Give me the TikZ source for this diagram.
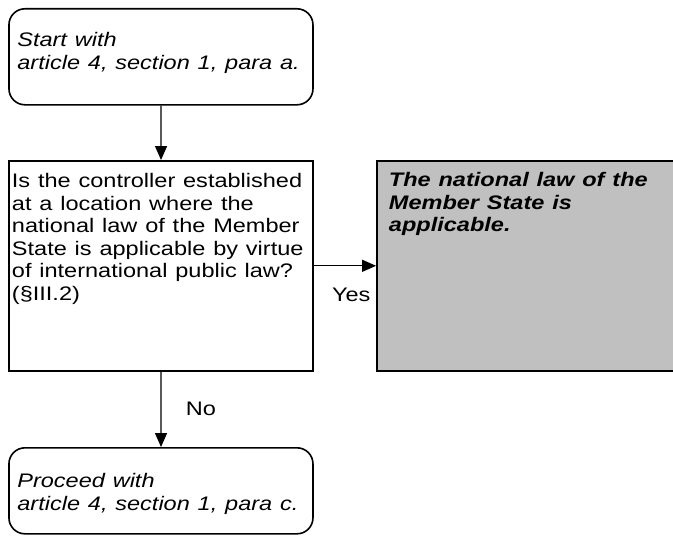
\documentclass[tikz,border=0pt]{standalone}
\usepackage{fontspec}
\setmainfont{Liberation Sans}
\usetikzlibrary{arrows.meta}
\definecolor{lawgray}{HTML}{C0C0C0}

\tikzset{
  flowbox/.style={draw, line width=1.6pt, anchor=north west, align=left, inner ysep=0pt,
    font=\fontsize{19.6}{22.5}\selectfont},
  roundbox/.style={flowbox, rounded corners=16pt, inner xsep=7pt, text width=239.33pt,
    font=\fontsize{19.6}{22.5}\selectfont\itshape},
  flowarrow/.style={line width=1.3pt, -{Triangle[length=14pt,width=12pt]}},
  answer/.style={font=\fontsize{19.6}{22.5}\selectfont, inner sep=0pt}
}

\begin{document}
\begin{tikzpicture}[xscale=1.2, x=0.8333pt, y=-1pt, transform shape]
\useasboundingbox (0,0) rectangle (673,537);
% boxes
\node[roundbox, text height=38pt, text depth=58pt] (start) at (8,8)
  {Start with\\article 4, section 1, para a.};
\node[flowbox, inner xsep=2.5pt, text width=248.33pt, text height=27pt, text depth=183pt] (question) at (8,160)
  {Is the controller established\\at a location where the\\national law of the Member\\State is applicable by virtue\\of international public law?\\(§III.2)};
\node[flowbox, fill=lawgray, inner xsep=10pt, text width=238.33pt, text height=26pt, text depth=184pt,
  font=\fontsize{19.6}{22.5}\selectfont\bfseries\itshape] (law) at (376,160)
  {The national law of the\\Member State is\\applicable.};
\node[roundbox, text height=40pt, text depth=46pt] (final) at (8,447)
  {Proceed with\\article 4, section 1, para c.};
% connectors
\draw[flowarrow] (start) -- (question);
\draw[flowarrow] (question) -- node[answer, pos=0.6, below=22pt] (yes) {Yes} (law);
\draw[flowarrow] (question) -- node[answer, midway, right=20pt] (no) {No} (final);
\end{tikzpicture}
\end{document}
